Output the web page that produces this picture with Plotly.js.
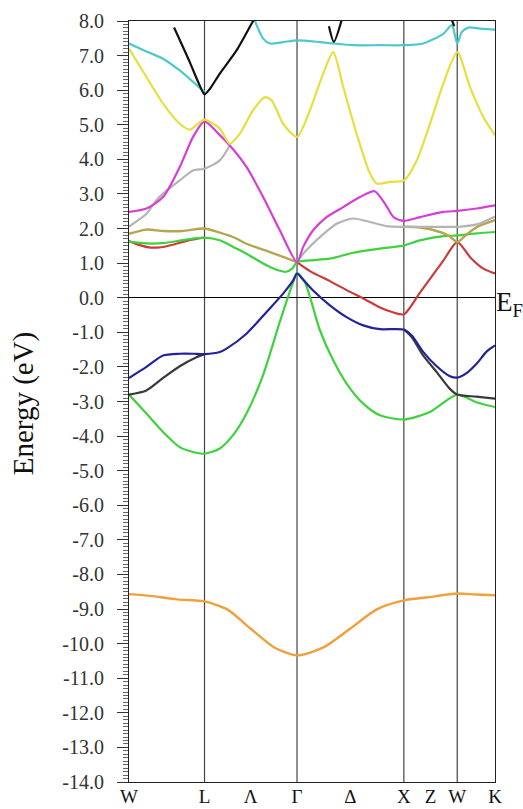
<!DOCTYPE html>
<html>
<head>
<meta charset="utf-8">
<script src="https://cdn.plot.ly/plotly-3.0.1.min.js"></script>
<style>html,body{margin:0;padding:0;background:#fff;}#chart{width:523px;height:809px;}</style>
</head>
<body>
<div id="chart"></div>
<script>
// High-symmetry k-path (W-L-Γ-X-W-K), path length units
const symK = [0, 0.7071, 1.5731, 2.5731, 3.0731, 3.4267];
const innerSymK = [0.7071, 1.5731, 2.5731, 3.0731];
const xTickK = [0, 0.7071, 1.14, 1.5731, 2.073, 2.5731, 2.823, 3.0731, 3.4267];
const xTickText = ['W', 'L', 'Λ', 'Γ', 'Δ', 'X', 'Z', 'W', 'K'];
const yTickVals = [8, 7, 6, 5, 4, 3, 2, 1, 0, -1, -2, -3, -4, -5, -6, -7, -8, -9, -10, -11, -12, -13, -14];
const yTickText = ['8.0', '7.0', '6.0', '5.0', '4.0', '3.0', '2.0', '1.0', '0.0', '-1.0', '-2.0', '-3.0', '-4.0', '-5.0', '-6.0', '-7.0', '-8.0', '-9.0', '-10.0', '-11.0', '-12.0', '-13.0', '-14.0'];

// Bands (k, E in eV)
const orangeK = [0, 0.2, 0.45, 0.707, 0.92, 1.14, 1.36, 1.573, 1.82, 2.07, 2.32, 2.573, 2.8, 3.073, 3.25, 3.427];
const orangeE = [-8.57, -8.62, -8.72, -8.78, -9.01, -9.57, -10.11, -10.34, -10.11, -9.57, -9.01, -8.75, -8.66, -8.55, -8.58, -8.60];

const greenVK = [0, 0.163, 0.319, 0.475, 0.6, 0.707, 0.85, 0.98, 1.1, 1.257, 1.412, 1.537, 1.573, 1.647, 1.787, 1.912, 2.037, 2.193, 2.35, 2.573, 2.818, 3.073, 3.25, 3.427];
const greenVE = [-2.80, -3.35, -3.88, -4.32, -4.46, -4.51, -4.36, -3.95, -3.35, -2.22, -0.70, 0.45, 0.72, 0.45, -0.94, -1.81, -2.48, -3.06, -3.40, -3.52, -3.30, -2.80, -3.02, -3.16];

const blackVK = [0, 0.163, 0.319, 0.475, 0.632, 0.707, null, 2.573, 2.65, 2.75, 2.881, 3.0, 3.073, 3.25, 3.427];
const blackVE = [-2.80, -2.68, -2.32, -1.98, -1.72, -1.63, null, -0.92, -1.15, -1.65, -2.15, -2.62, -2.80, -2.86, -2.92];

const blueK = [0, 0.163, 0.319, 0.475, 0.6, 0.707, 0.85, 0.913, 1.1, 1.288, 1.443, 1.537, 1.573, 1.631, 1.724, 1.881, 2.037, 2.193, 2.35, 2.573, 2.65, 2.75, 2.881, 3.0, 3.073, 3.16, 3.256, 3.35, 3.427];
const blueE = [-2.32, -2.0, -1.67, -1.62, -1.62, -1.63, -1.57, -1.47, -1.04, -0.41, 0.12, 0.50, 0.70, 0.52, 0.21, -0.22, -0.56, -0.80, -0.91, -0.92, -1.10, -1.55, -1.98, -2.26, -2.31, -2.18, -1.90, -1.55, -1.38];

const redK = [0, 0.1, 0.2, 0.3, 0.42, 0.55, 0.707, null, 1.573, 1.694, 1.881, 2.037, 2.193, 2.35, 2.47, 2.573, 2.724, 2.881, 2.943, 3.073, 3.2, 3.318, 3.427];
const redE = [1.64, 1.52, 1.45, 1.46, 1.54, 1.65, 1.74, null, 1.03, 0.77, 0.48, 0.22, -0.02, -0.28, -0.42, -0.48, 0.15, 0.81, 1.07, 1.61, 1.15, 0.84, 0.70];

const greenCK = [0, 0.163, 0.319, 0.475, 0.6, 0.707, 0.85, 1.0, 1.1, 1.288, 1.412, 1.47, 1.53, 1.573, 1.694, 1.881, 2.099, 2.35, 2.573, 2.724, 2.943, 3.073, 3.25, 3.427];
const greenCE = [1.62, 1.57, 1.58, 1.65, 1.71, 1.74, 1.66, 1.43, 1.27, 0.94, 0.78, 0.75, 0.85, 1.03, 1.08, 1.13, 1.30, 1.42, 1.51, 1.66, 1.78, 1.80, 1.86, 1.90];

const oliveK = [0, 0.163, 0.319, 0.5, 0.707, 0.85, 1.0, 1.1, 1.319, 1.443, 1.573, null, 2.573, 2.724, 2.912, 3.0, 3.073, 3.15, 3.256, 3.427];
const oliveE = [1.85, 1.97, 1.93, 1.93, 2.0, 1.88, 1.72, 1.56, 1.32, 1.18, 1.03, null, 2.05, 2.03, 1.90, 1.78, 1.61, 1.80, 2.04, 2.24];

const grayK = [0, 0.163, 0.257, 0.319, 0.475, 0.6, 0.707, 0.85, 0.944, null, 1.573, 1.631, 1.787, 1.943, 2.099, 2.256, 2.412, 2.573, 2.8, 3.073, 3.256, 3.427];
const grayE = [2.06, 2.43, 2.82, 3.01, 3.39, 3.68, 3.73, 3.97, 4.40, null, 1.03, 1.27, 1.75, 2.14, 2.29, 2.19, 2.07, 2.05, 2.05, 2.05, 2.12, 2.35];

const magentaK = [0, 0.163, 0.319, 0.475, 0.6, 0.707, 0.85, 0.944, 1.1, 1.256, 1.412, 1.573, 1.631, 1.724, 1.85, 2.006, 2.162, 2.30, 2.40, 2.48, 2.573, 2.724, 2.943, 3.073, 3.256, 3.427];
const magentaE = [2.48, 2.58, 2.91, 3.78, 4.65, 5.10, 4.70, 4.40, 3.78, 2.91, 1.95, 1.03, 1.47, 1.95, 2.33, 2.62, 2.91, 3.08, 2.70, 2.32, 2.22, 2.33, 2.48, 2.51, 2.58, 2.67];

const yellowK = [0, 0.163, 0.319, 0.475, 0.569, 0.647, 0.707, 0.85, 0.944, 1.037, 1.162, 1.272, 1.335, 1.443, 1.573, 1.694, 1.818, 1.912, 2.006, 2.131, 2.256, 2.319, 2.443, 2.573, 2.694, 2.818, 2.943, 3.073, 3.193, 3.318, 3.427];
const yellowE = [7.20, 6.38, 5.61, 5.03, 4.86, 5.03, 5.15, 4.89, 4.45, 4.74, 5.42, 5.80, 5.71, 5.03, 4.65, 5.42, 6.48, 7.10, 6.09, 4.74, 3.59, 3.30, 3.35, 3.39, 3.97, 5.03, 6.19, 7.10, 6.09, 5.22, 4.70];

const cyanK = [0, 0.163, 0.319, 0.475, 0.6, 0.707, null, 1.16, 1.256, 1.319, 1.443, 1.573, 1.787, 1.912, 2.099, 2.35, 2.573, 2.755, 2.943, 3.022, 3.073, 3.115, 3.177, 3.287, 3.427];
const cyanE = [7.35, 7.12, 6.91, 6.57, 6.24, 5.95, null, 8.15, 7.49, 7.35, 7.39, 7.44, 7.39, 7.35, 7.30, 7.30, 7.30, 7.35, 7.63, 7.88, 7.35, 7.68, 7.81, 7.78, 7.75];

const blackUK = [0.422, 0.569, 0.65, 0.707, 0.76, 0.85, 1.007, 1.162, 1.2, null, 1.872, 1.918, 1.993, null, 3.02, 3.045];
const blackUE = [7.81, 6.81, 6.22, 5.88, 6.05, 6.48, 7.15, 8.0, 8.2, null, 7.85, 7.40, 8.05, null, 8.05, 7.85];

function band(k, e, color, w) {
  return {x: k, y: e, type: 'scatter', mode: 'lines', connectgaps: false,
          line: {color: color, width: w || 2.2, shape: 'spline', smoothing: 0.7},
          hoverinfo: 'skip'};
}

const data = [
  band(orangeK, orangeE, '#f0a03c', 2.4),
  band(greenVK, greenVE, '#3ed23e'),
  band(blackVK, blackVE, '#3a3a3a'),
  band(blueK, blueE, '#23239a'),
  band(redK, redE, '#cc3b3b'),
  band(greenCK, greenCE, '#3ed23e'),
  band(oliveK, oliveE, '#b5a74f', 2.4),
  band(grayK, grayE, '#b4b4b4'),
  band(magentaK, magentaE, '#d63fd6'),
  band(yellowK, yellowE, '#e6e03c'),
  band(cyanK, cyanE, '#4cc9cf'),
  band(blackUK, blackUE, '#111111')
];

const serif = 'Liberation Serif, Times New Roman, DejaVu Serif, serif';

const layout = {
  width: 523, height: 809,
  margin: {l: 129, r: 28, t: 21, b: 27},
  paper_bgcolor: '#ffffff', plot_bgcolor: '#ffffff',
  showlegend: false,
  font: {family: serif, color: '#222'},
  xaxis: {
    range: [0, 3.4267], tickmode: 'array', tickvals: xTickK, ticktext: xTickText,
    ticks: '', showgrid: false, zeroline: false, showline: true, mirror: true,
    linecolor: '#222', linewidth: 1, tickfont: {size: 19, family: serif, color: '#111'},
    ticklabelstandoff: -3
  },
  yaxis: {
    range: [-14, 8], tickmode: 'array', tickvals: yTickVals, ticktext: yTickText,
    ticks: 'outside', ticklen: 11, tickcolor: '#333', tickwidth: 1,
    minor: {tickmode: 'linear', tick0: 0, dtick: 0.1, ticks: 'outside', ticklen: 5, tickcolor: '#666', tickwidth: 1, showgrid: false},
    showgrid: false, zeroline: true, zerolinecolor: '#000', zerolinewidth: 1.5,
    showline: true, mirror: true, linecolor: '#222', linewidth: 1,
    tickfont: {size: 20, family: serif, color: '#333'}, ticklabelstandoff: 9
  },
  shapes: innerSymK.map(k => ({type: 'line', xref: 'x', yref: 'paper', x0: k, x1: k, y0: 0, y1: 1,
                               line: {color: '#444', width: 1.2}, layer: 'below'})),
  annotations: [
    {xref: 'paper', yref: 'y', x: 1, y: 0, xanchor: 'left', yanchor: 'middle', showarrow: false,
     text: 'E<sub>F</sub>', font: {size: 27, family: serif, color: '#111'}, xshift: -1, yshift: -6},
    {xref: 'paper', yref: 'paper', x: -0.2896, y: 0.4976, xanchor: 'center', yanchor: 'middle', showarrow: false,
     textangle: -90, text: 'Energy (eV)', font: {size: 29, family: serif, color: '#111'}}
  ]
};

Plotly.newPlot('chart', data, layout, {staticPlot: true, displayModeBar: false});
</script>
</body>
</html>
